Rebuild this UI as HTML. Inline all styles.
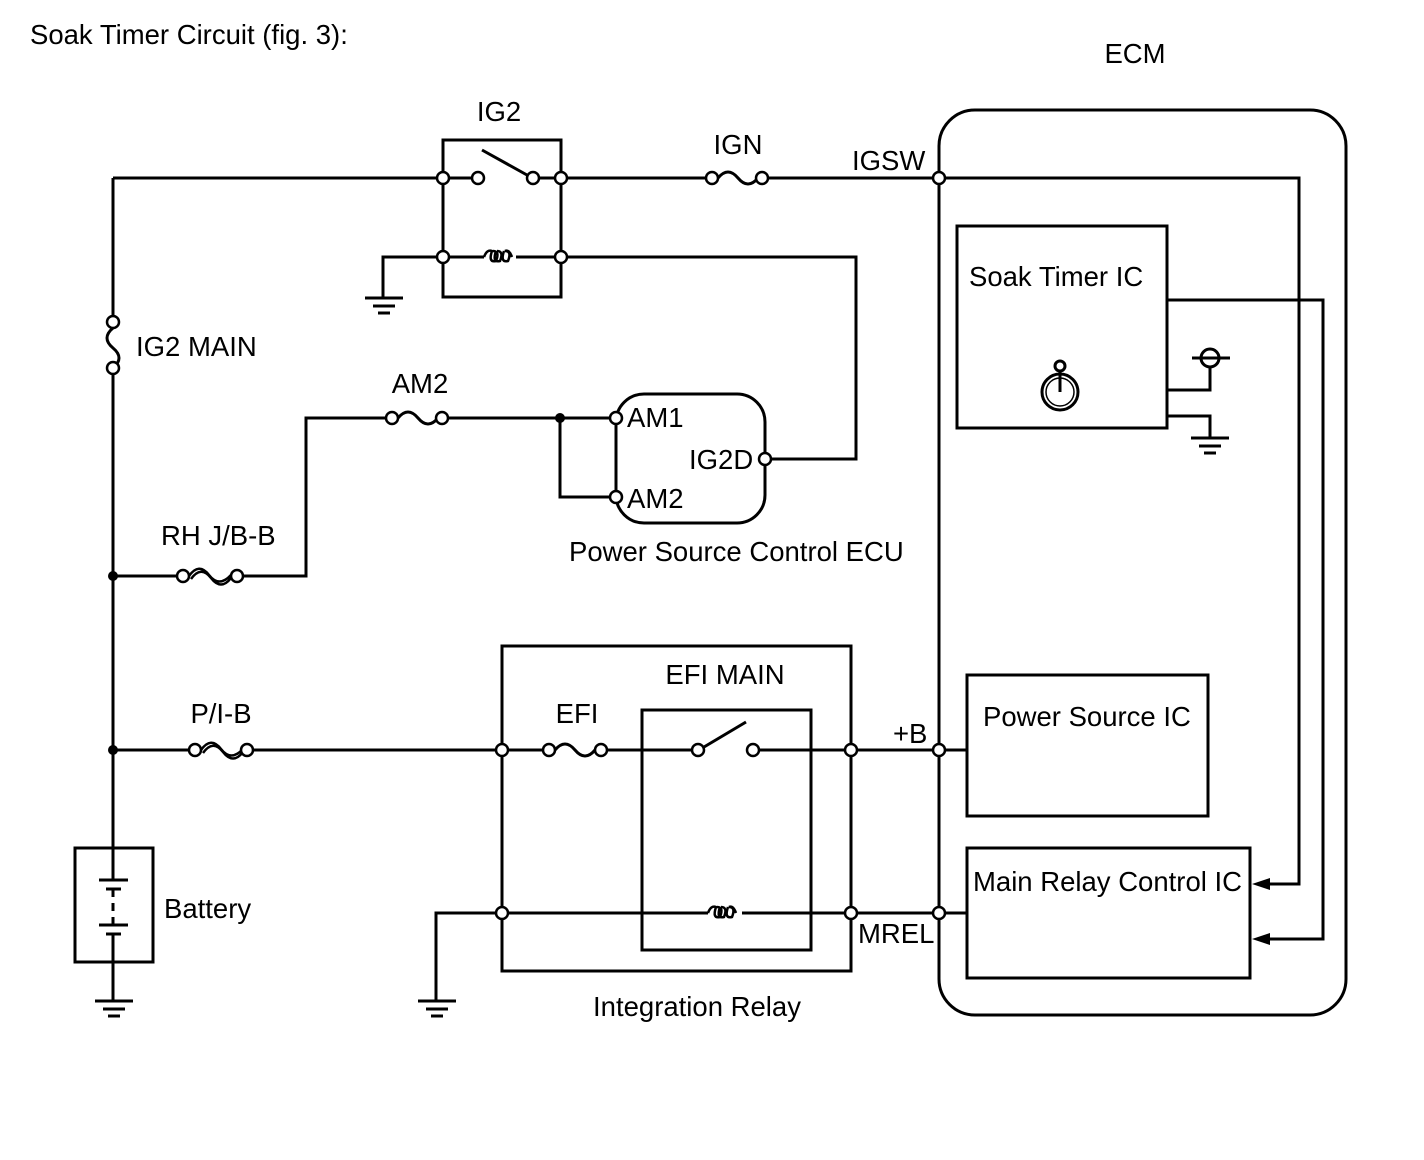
<!DOCTYPE html>
<html><head><meta charset="utf-8"><style>
html,body{margin:0;padding:0;background:#fff}
svg{display:block}
text{font-family:"Liberation Sans",Arial,sans-serif;fill:#000}
</style></head><body>
<svg width="1424" height="1160" viewBox="0 0 1424 1160" xmlns="http://www.w3.org/2000/svg">
<g fill="none" stroke="#000" stroke-width="3">
<rect x="939" y="110" width="407" height="905" rx="36"/>
<rect x="957" y="226" width="210" height="202"/>
<rect x="967" y="675" width="241" height="141"/>
<rect x="967" y="848" width="283" height="130"/>
<path d="M113 178 V322 M113 368 V848 M113 962 V1000"/>
<path d="M113 178 H443"/>
<rect x="443" y="140" width="118" height="157"/>
<path d="M443 178 H472 M482 150 L527 175 M539 178 H561"/>
<path d="M443 257 H484 M516 257 H561"/>
<path d="M484 257 q3 -8 8 -6 q-4 12 4 10 q4 -10 -3 -10 M496 251 q-4 12 4 10 q4 -10 -3 -10 M504 251 q-4 12 4 10 q4 -10 -3 -10 q4 -2 7 6" stroke-width="2.5"/>
<path d="M443 257 H383 V297"/>
<path d="M561 178 H712 M762 178 H1299 V884 H1262"/>
<path d="M561 257 H856 V459 H771"/>
<path d="M113 576 H183 M237 576 H306 V418 H392 M442 418 H610 M560 418 V497 H610"/>
<rect x="616" y="394" width="149" height="129" rx="28"/>
<path d="M113 750 H195 M247 750 H549 M601 750 H692 M704 747 L746 722 M759 750 H967"/>
<rect x="502" y="646" width="349" height="325"/>
<rect x="642" y="710" width="169" height="240"/>
<path d="M502 913 H708 M742 913 H967 M502 913 H436 V1000"/>
<path d="M708 913 q3 -8 8 -6 q-4 12 4 10 q4 -10 -3 -10 M720 907 q-4 12 4 10 q4 -10 -3 -10 M728 907 q-4 12 4 10 q4 -10 -3 -10 q4 -2 7 6" stroke-width="2.5"/>
<path d="M1167 300 H1323 V939 H1262"/>
<path d="M1167 390 H1210 V367"/>
<path d="M1167 416 H1210 V437"/>
<rect x="75" y="848" width="78" height="114"/>
<path d="M113 848 V880 M99 880 H128 M106 889 H121 M113 889 V897 M113 903 V911 M113 917 V925 M99 925 H128 M106 934 H121 M113 934 V962"/>
<path d="M718 178 q10 -12 20 0 t20 0"/>
<path d="M398 418 q10 -12 20 0 t20 0"/>
<path d="M555 750 q10 -12 20 0 t20 0"/>
<path d="M113 328 q-12 10 0 20 t0 20"/>
<path d="M189 576 q10 -14 20 -1 t22 0 M191 579 q10 -14 20 -1 t20 0" stroke-width="2.5"/>
<path d="M201 750 q10 -14 20 -1 t22 0 M203 753 q10 -14 20 -1 t20 0" stroke-width="2.5"/>
<circle cx="1060" cy="392" r="18"/>
<circle cx="1060" cy="392" r="14" stroke-width="1.5"/>
<circle cx="1060" cy="366" r="5"/>
<path d="M1060 371 V392"/>
</g>
<g stroke="#000" stroke-width="3">
<path d="M365 298 H403 M373 306 H395 M378 313 H390"/>
<path d="M418 1001 H456 M426 1009 H448 M431 1016 H443"/>
<path d="M95 1001 H133 M103 1009 H125 M108 1016 H120"/>
<path d="M1191 438 H1229 M1199 446 H1221 M1204 453 H1216"/>
</g>
<path d="M1252 884 L1270 878 V890 Z M1252 939 L1270 933 V945 Z" fill="#000"/>
<g fill="#fff" stroke="#000" stroke-width="2.5">
<circle cx="443" cy="178" r="6"/><circle cx="478" cy="178" r="6"/><circle cx="533" cy="178" r="6"/><circle cx="561" cy="178" r="6"/>
<circle cx="443" cy="257" r="6"/><circle cx="561" cy="257" r="6"/>
<circle cx="712" cy="178" r="6"/><circle cx="762" cy="178" r="6"/>
<circle cx="939" cy="178" r="6"/>
<circle cx="113" cy="322" r="6"/><circle cx="113" cy="368" r="6"/>
<circle cx="392" cy="418" r="6"/><circle cx="442" cy="418" r="6"/>
<circle cx="616" cy="418" r="6"/><circle cx="616" cy="497" r="6"/><circle cx="765" cy="459" r="6"/>
<circle cx="183" cy="576" r="6"/><circle cx="237" cy="576" r="6"/>
<circle cx="195" cy="750" r="6"/><circle cx="247" cy="750" r="6"/>
<circle cx="502" cy="750" r="6"/><circle cx="549" cy="750" r="6"/><circle cx="601" cy="750" r="6"/>
<circle cx="698" cy="750" r="6"/><circle cx="753" cy="750" r="6"/>
<circle cx="851" cy="750" r="6"/><circle cx="939" cy="750" r="6"/>
<circle cx="502" cy="913" r="6"/><circle cx="851" cy="913" r="6"/><circle cx="939" cy="913" r="6"/>
<circle cx="1210" cy="358" r="9" stroke-width="3"/>
</g>
<path d="M1192 358 H1230" stroke="#000" stroke-width="3"/>
<g fill="#000"><circle cx="113" cy="576" r="5"/><circle cx="113" cy="750" r="5"/><circle cx="560" cy="418" r="5"/></g>
<g font-size="27.5">
<text x="30" y="44">Soak Timer Circuit (fig. 3):</text>
<text x="1135" y="63" text-anchor="middle">ECM</text>
<text x="499" y="121" text-anchor="middle">IG2</text>
<text x="738" y="154" text-anchor="middle">IGN</text>
<text x="852" y="170">IGSW</text>
<text x="969" y="286">Soak Timer IC</text>
<text x="136" y="356">IG2 MAIN</text>
<text x="420" y="393" text-anchor="middle">AM2</text>
<text x="627" y="427">AM1</text>
<text x="627" y="508">AM2</text>
<text x="689" y="469">IG2D</text>
<text x="161" y="545">RH J/B-B</text>
<text x="569" y="561">Power Source Control ECU</text>
<text x="725" y="684" text-anchor="middle">EFI MAIN</text>
<text x="221" y="723" text-anchor="middle">P/I-B</text>
<text x="577" y="723" text-anchor="middle">EFI</text>
<text x="893" y="743">+B</text>
<text x="983" y="726">Power Source IC</text>
<text x="973" y="891">Main Relay Control IC</text>
<text x="164" y="918">Battery</text>
<text x="858" y="943">MREL</text>
<text x="697" y="1016" text-anchor="middle">Integration Relay</text>
</g>
</svg>
</body></html>
